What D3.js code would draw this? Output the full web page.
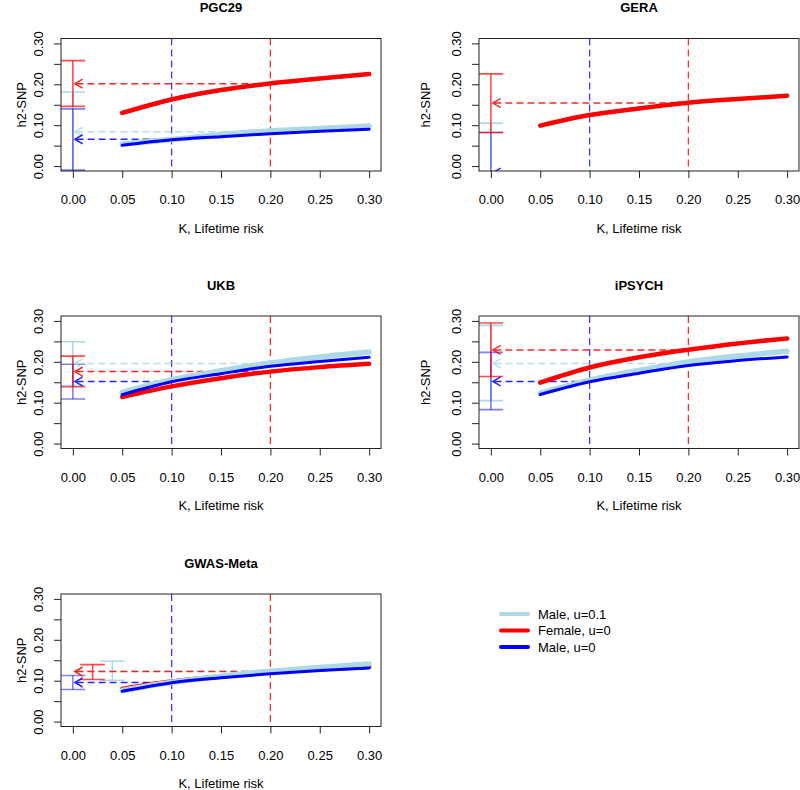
<!DOCTYPE html>
<html>
<head>
<meta charset="utf-8">
<script src="https://cdn.jsdelivr.net/npm/d3@7"></script>
<style>
body { margin: 0; background: #fff; }
svg { display: block; }
text { font-family: "Liberation Sans", Arial, Helvetica, sans-serif; fill: #000; }
</style>
</head>
<body>
<div id="chart"></div>
<script>
(function(){

// ---- data ----
var panels = ["PGC29", "GERA", "UKB", "iPSYCH", "GWAS-Meta"];
var kValues = [0.05, 0.10, 0.15, 0.20, 0.25, 0.30];

var seriesNames = ["Male, u=0.1", "Female, u=0", "Male, u=0"];
var refK = [0.2, 0.2, 0.1];   // K where each estimate is read off the curve

// h2-SNP curves by K, one row per panel (null = not drawn)
var maleU01 = [
	[0.054, 0.065, 0.077, 0.086, 0.092, 0.098],
	null,
	[0.125, 0.156, 0.178, 0.197, 0.212, 0.224],
	[0.123, 0.155, 0.179, 0.1995, 0.214, 0.226],
	[0.076, 0.096, 0.111, 0.123, 0.132, 0.141]
];
var female = [
	[0.130, 0.163, 0.186, 0.202, 0.214, 0.225],
	[0.099, 0.125, 0.141, 0.155, 0.164, 0.172],
	[0.114, 0.140, 0.160, 0.176, 0.187, 0.195],
	[0.149, 0.186, 0.211, 0.2295, 0.245, 0.257],
	[0.080, 0.098, 0.110, 0.121, 0.128, 0.134]
];
var male = [
	[0.051, 0.0645, 0.072, 0.079, 0.085, 0.090],
	null,
	[0.1195, 0.151, 0.171, 0.189, 0.201, 0.211],
	[0.120, 0.151, 0.172, 0.191, 0.203, 0.212],
	[0.074, 0.095, 0.107, 0.117, 0.125, 0.131]
];

// estimates [h2, lower, upper] per panel
var maleU01Est = [
	[0.084, -0.020, 0.181],
	[-0.030, -0.060, 0.105],
	[0.196, 0.142, 0.249],
	[0.196, 0.105, 0.289],
	[0.123, 0.101, 0.1475]
];
var femaleEst = [
	[0.2016, 0.146, 0.258],
	[0.154, 0.082, 0.2254],
	[0.176, 0.139, 0.214],
	[0.229, 0.164, 0.295],
	[0.1224, 0.103, 0.1394]
];
var maleEst = [
	[0.0656, -0.0098, 0.140],
	[-0.016, -0.050, 0.082],
	[0.152, 0.109, 0.194],
	[0.152, 0.083, 0.223],
	[0.0956, 0.0786, 0.1127]
];
// x position of the error bars [male u=0.1, female, male]
var barX = [
	[0, 0, 0],
	[0, 0, 0],
	[0, 0, 0],
	[0, 0, 0],
	[0.04, 0.02, 0]
];

var xTicks = [0, 0.05, 0.10, 0.15, 0.20, 0.25, 0.30];
var yTicks = [0, 0.05, 0.10, 0.15, 0.20, 0.25, 0.30];

// ---- layout ----
var width = 800,
	height = 790,
	colLeft = [61, 479],
	ylabX = [21, 425],
	rowTop = [38.5, 316, 594],
	boxW = 320,
	boxH = 132.5;

var colors = ["#add8e6", "#ff0000", "#0000ff"],
	curveWidth = [5.5, 4.5, 3],
	barOpacity = [1, 0.7, 0.5];

var curves = [maleU01, female, male],
	ests = [maleU01Est, femaleEst, maleEst];

var svg = d3.select("#chart").append("svg")
	.attr("width", width)
	.attr("height", height);

var defs = svg.append("defs");

var X = d3.scaleLinear().domain([-0.012, 0.312]).range([0, boxW]);
var Y = d3.scaleLinear().domain([-0.012, 0.312]).range([boxH, 0]);

var line = d3.line()
	.x(function(d){ return X(d[0]); })
	.y(function(d){ return Y(d[1]); })
	.curve(d3.curveMonotoneX);

var fmt = d3.format(".2f");

panels.forEach(function(name, i){
	var col = i % 2, row = Math.floor(i / 2);
	var g = svg.append("g").attr("transform", "translate(" + colLeft[col] + "," + rowTop[row] + ")");

	defs.append("clipPath").attr("id", "clip" + i)
		.append("rect").attr("width", boxW).attr("height", boxH);

	var plot = g.append("g").attr("clip-path", "url(#clip" + i + ")");

	// reference K lines
	[[0.1, "#3a3aff"], [0.2, "#ff2a2a"]].forEach(function(r){
		plot.append("line")
			.attr("x1", X(r[0])).attr("x2", X(r[0]))
			.attr("y1", 0).attr("y2", boxH)
			.attr("stroke", r[1])
			.attr("stroke-width", 1.3)
			.attr("stroke-dasharray", "7,4");
	});

	// error bars
	[0, 2, 1].forEach(function(s){
		var e = ests[s][i], bx = X(barX[i][s]);
		var eb = plot.append("g")
			.attr("stroke", colors[s])
			.attr("stroke-opacity", barOpacity[s])
			.attr("stroke-width", 1.6);
		eb.append("line").attr("x1", bx).attr("x2", bx).attr("y1", Y(e[1])).attr("y2", Y(e[2]));
		[e[1], e[2]].forEach(function(v){
			eb.append("line").attr("x1", bx - 12.3).attr("x2", bx + 12.3).attr("y1", Y(v)).attr("y2", Y(v));
		});
	});

	// dashed arrows from the curve at K to the axis
	[0, 1, 2].forEach(function(s){
		var e = ests[s][i];
		var x0 = X(refK[s]), x1 = X(0.002), yy = Y(e[0]);
		var ar = plot.append("g")
			.attr("stroke", colors[s])
			.attr("stroke-opacity", 0.85)
			.attr("stroke-width", 1.5)
			.attr("fill", "none");
		ar.append("line").attr("x1", x0).attr("x2", x1).attr("y1", yy).attr("y2", yy)
			.attr("stroke-dasharray", "7,4");
		ar.append("path").attr("d", "M" + (x1 + 7.8) + "," + (yy - 4.5) + "L" + x1 + "," + yy + "L" + (x1 + 7.8) + "," + (yy + 4.5));
	});

	// curves
	[1, 0, 2].forEach(function(s){
		var c = curves[s][i];
		if (!c) return;
		plot.append("path")
			.datum(kValues.map(function(k, j){ return [k, c[j]]; }))
			.attr("d", line)
			.attr("fill", "none")
			.attr("stroke", colors[s])
			.attr("stroke-width", curveWidth[s])
			.attr("stroke-linecap", "round");
	});

	// axes
	var xa = g.append("g").attr("transform", "translate(0," + boxH + ")")
		.call(d3.axisBottom(X).tickValues(xTicks).tickSize(7).tickPadding(17).tickFormat(fmt));
	xa.select(".domain").remove();
	xa.selectAll("text").style("font-size", "13px");

	var ya = g.append("g")
		.call(d3.axisLeft(Y).tickValues(yTicks).tickSize(7)
			.tickFormat(function(d, j){ return j % 2 ? "" : fmt(d); }));
	ya.select(".domain").remove();
	ya.selectAll("text")
		.attr("x", null).attr("dy", "0.35em")
		.attr("text-anchor", "middle")
		.attr("transform", "translate(-23,0) rotate(-90)")
		.style("font-size", "13px");
	g.selectAll(".tick line").attr("stroke", "#222");

	g.append("rect")
		.attr("width", boxW).attr("height", boxH)
		.attr("fill", "none").attr("stroke", "#222").attr("stroke-width", 1);

	// titles and labels
	g.append("text")
		.attr("x", boxW / 2).attr("y", -31).attr("dy", "0.35em")
		.attr("text-anchor", "middle")
		.style("font-size", "13px").style("font-weight", "bold")
		.text(name);

	g.append("text")
		.attr("x", boxW / 2).attr("y", boxH + 57).attr("dy", "0.35em")
		.attr("text-anchor", "middle")
		.style("font-size", "13px")
		.text("K, Lifetime risk");

	svg.append("text")
		.attr("transform", "translate(" + ylabX[col] + "," + (rowTop[row] + boxH / 2) + ") rotate(-90)")
		.attr("dy", "0.35em")
		.attr("text-anchor", "middle")
		.style("font-size", "13px")
		.text("h2-SNP");
});

// legend
var legY = [614, 630.5, 647];
var leg = svg.append("g").attr("class", "legend");
seriesNames.forEach(function(n, s){
	leg.append("line")
		.attr("x1", 501).attr("x2", 528)
		.attr("y1", legY[s]).attr("y2", legY[s])
		.attr("stroke", colors[s]).attr("stroke-width", 4)
		.attr("stroke-linecap", "round");
	leg.append("text")
		.attr("x", 538).attr("y", legY[s]).attr("dy", "0.35em")
		.style("font-size", "13px")
		.text(n);
});

})();
</script>
</body>
</html>
